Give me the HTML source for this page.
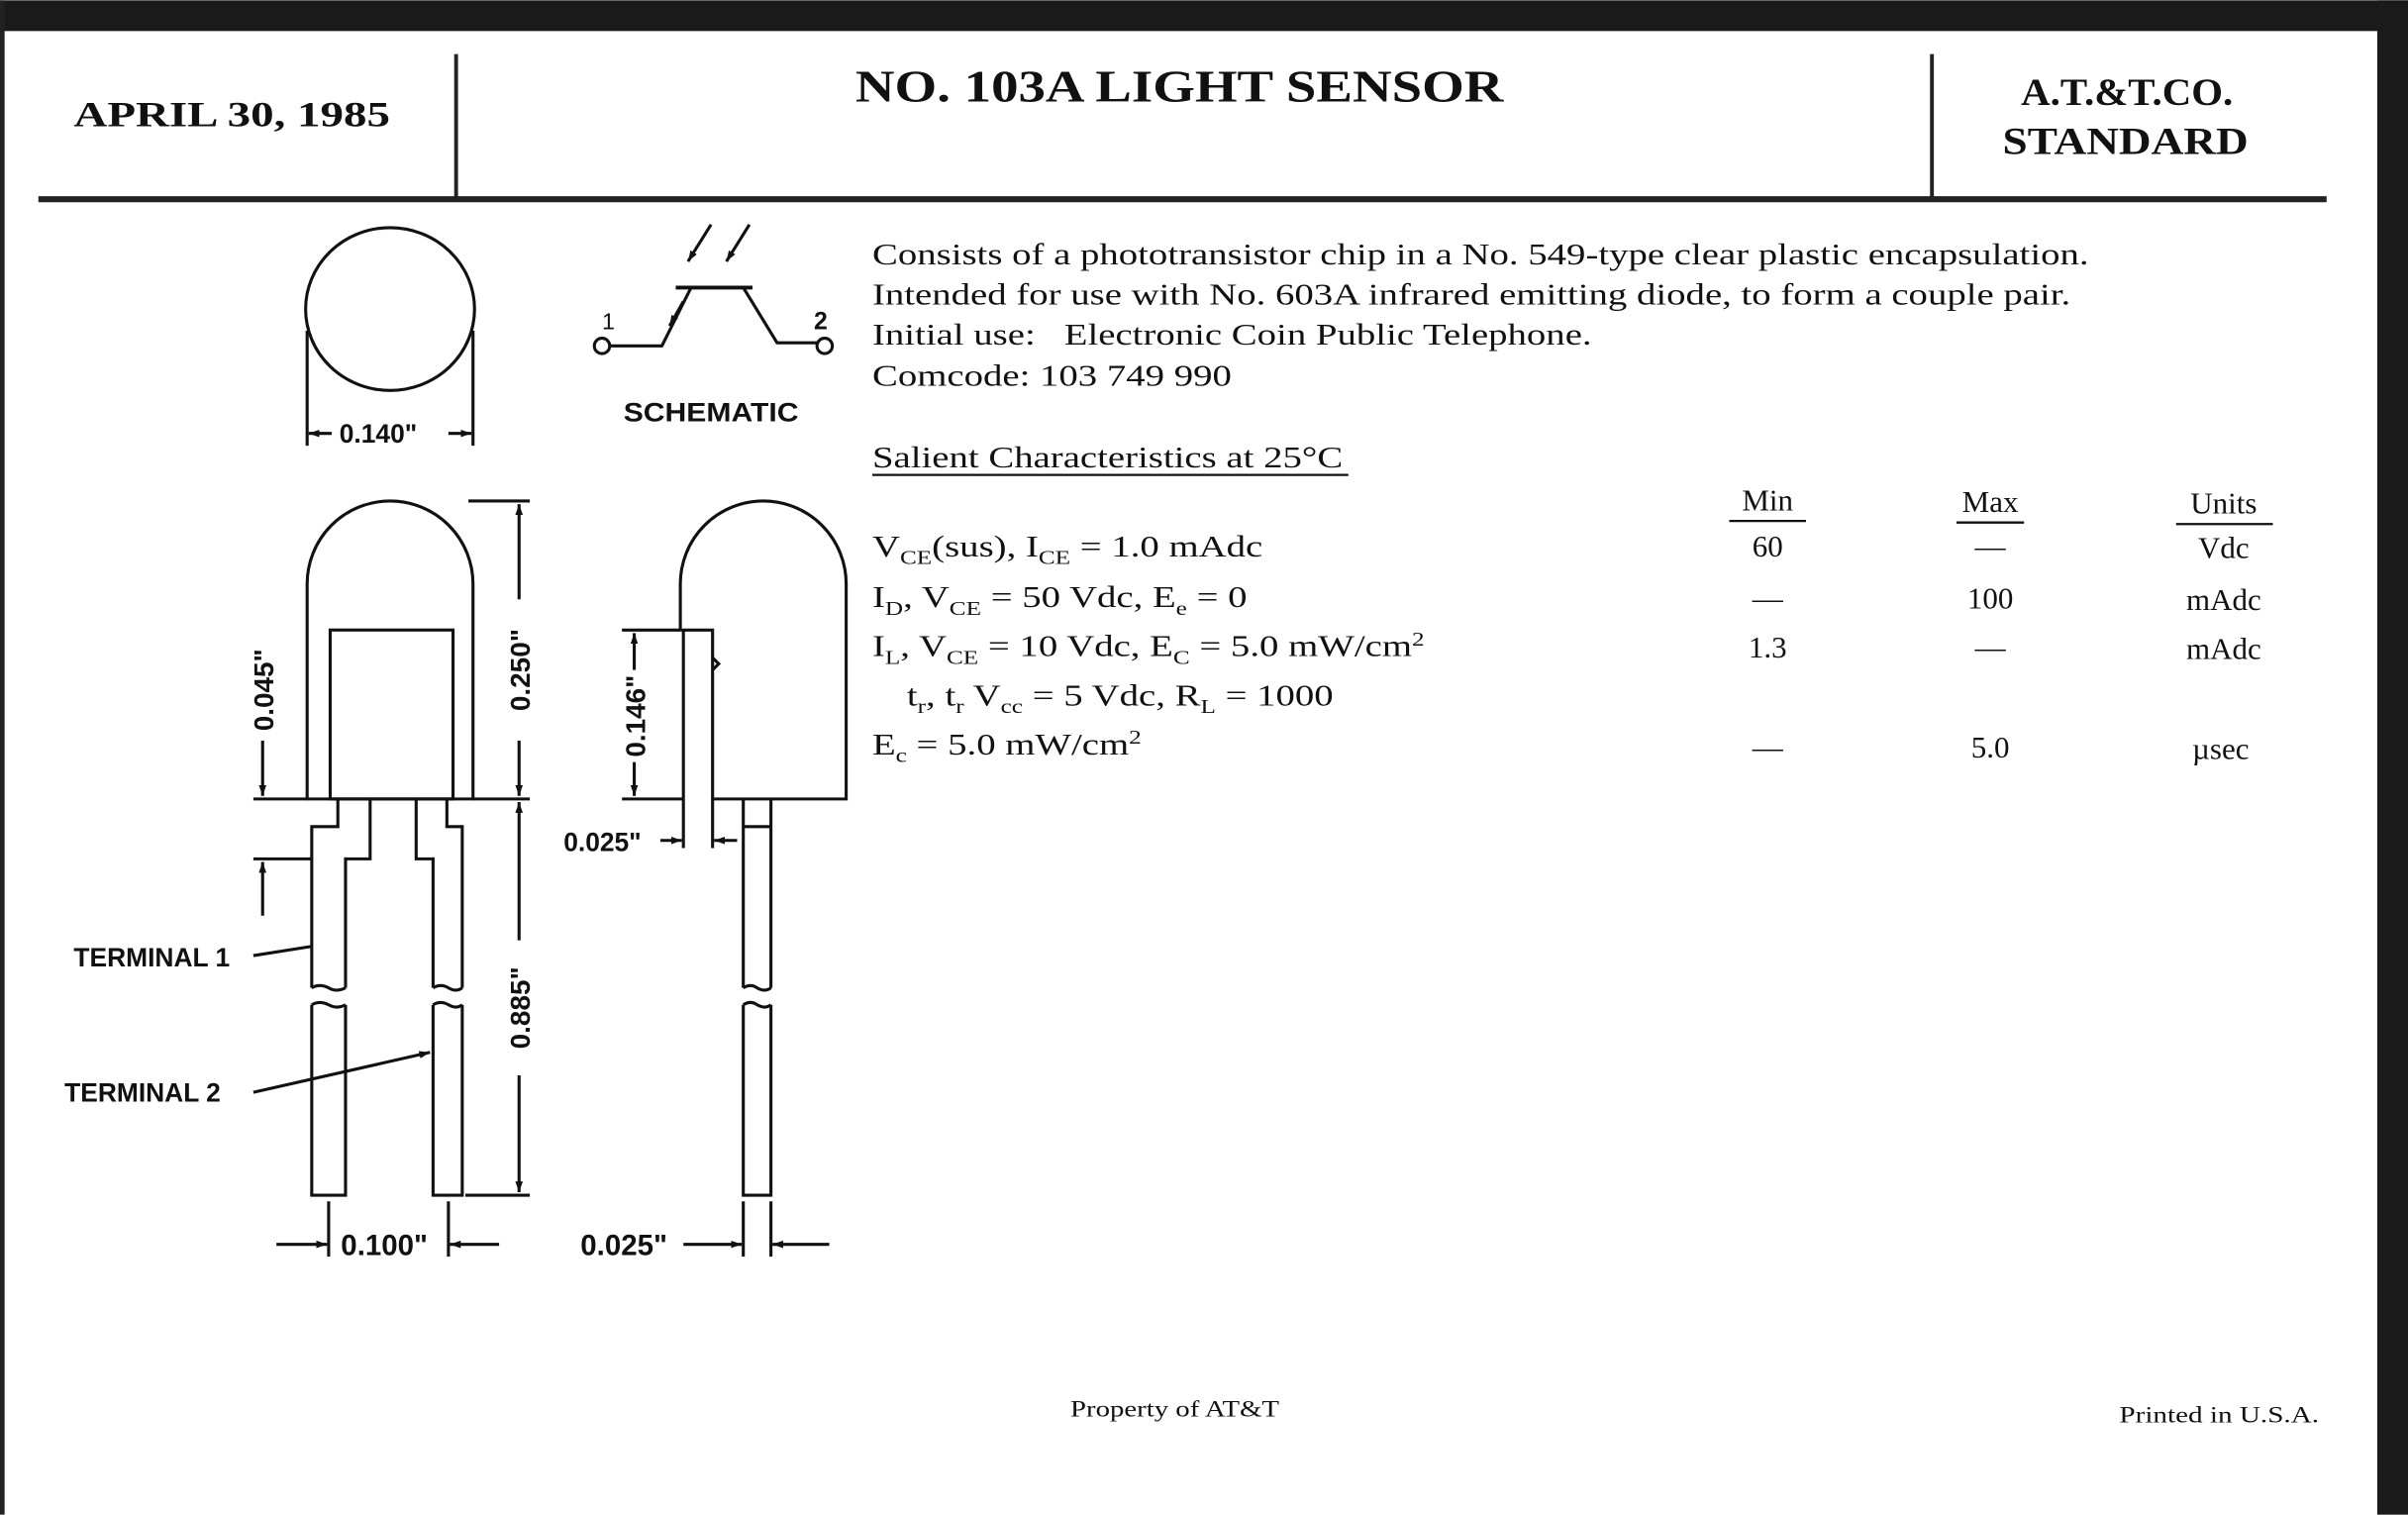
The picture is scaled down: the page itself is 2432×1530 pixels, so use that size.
<!DOCTYPE html>
<html><head><meta charset="utf-8"><style>
html,body{margin:0;padding:0;background:#fff;}
svg{display:block;}
.s{font-family:"Liberation Serif",serif;fill:#111;}
.g{font-family:"Liberation Sans",sans-serif;font-weight:bold;fill:#111;}
</style></head><body>
<svg width="2432" height="1530" viewBox="0 0 1568 986" xmlns="http://www.w3.org/2000/svg">
<defs>
<marker id="a" viewBox="0 0 10 10" refX="10" refY="5" markerWidth="7" markerHeight="7" orient="auto-start-reverse" markerUnits="userSpaceOnUse"><path d="M0,1.5 L10,5 L0,8.5 Z" fill="#111"/></marker>
</defs>
<rect width="1568" height="986" fill="#fff"/>
<rect x="0" y="0" width="1568" height="20" fill="#1a1a1a"/>
<rect x="1548" y="0" width="20" height="986" fill="#1a1a1a"/>
<rect x="0" y="0" width="3" height="986" fill="#222"/>
<!-- header -->
<g stroke="#222" fill="none">
<line x1="297" y1="35" x2="297" y2="128" stroke-width="2.5"/>
<line x1="1258" y1="35" x2="1258" y2="128" stroke-width="2.5"/>
<line x1="25" y1="129.5" x2="1515" y2="129.5" stroke-width="4"/>
</g>
<text class="s" x="48" y="82" font-size="23" font-weight="bold" textLength="206" lengthAdjust="spacingAndGlyphs">APRIL 30, 1985</text>
<text class="s" x="557" y="66" font-size="29" font-weight="bold" textLength="422" lengthAdjust="spacingAndGlyphs">NO. 103A LIGHT SENSOR</text>
<text class="s" x="1316" y="68" font-size="25" font-weight="bold" textLength="138" lengthAdjust="spacingAndGlyphs">A.T.&amp;T.CO.</text>
<text class="s" x="1304" y="100" font-size="25" font-weight="bold" textLength="160" lengthAdjust="spacingAndGlyphs">STANDARD</text>

<g stroke="#111" stroke-width="2" fill="none">
<ellipse cx="254" cy="201" rx="55" ry="53"/>
<line x1="200" y1="215" x2="200" y2="290"/>
<line x1="308" y1="215" x2="308" y2="290"/>
<line x1="216" y1="282" x2="201" y2="282" marker-end="url(#a)"/>
<line x1="292" y1="282" x2="307" y2="282" marker-end="url(#a)"/>
<path d="M200,520 V380 A54,54 0 0 1 308,380 V520 Z"/>
<rect x="215" y="410" width="80" height="110"/>
<line x1="165" y1="520" x2="200" y2="520"/>
<line x1="308" y1="520" x2="345" y2="520"/>
<path d="M220,520 V538 H203 V643"/>
<path d="M241,520 V559 H225 V643"/>
<path d="M203,643 q5,-3 11,0 q5,3 11,0"/>
<path d="M203,654 q5,-3 11,0 q5,3 11,0"/>
<path d="M203,654 V778 H225 V654"/>
<path d="M271,520 V559 H282 V643"/>
<path d="M291,520 V538 H301 V643"/>
<path d="M282,643 q5,-3 10,0 q5,3 9,0"/>
<path d="M282,654 q5,-3 10,0 q5,3 9,0"/>
<path d="M282,654 V778 H301 V654"/>
<line x1="165" y1="559" x2="203" y2="559"/>
<line x1="171" y1="596" x2="171" y2="561" marker-end="url(#a)"/>
<line x1="171" y1="482" x2="171" y2="518" marker-end="url(#a)"/>
<line x1="305" y1="326" x2="345" y2="326"/>
<line x1="338" y1="390" x2="338" y2="328" marker-end="url(#a)"/>
<line x1="338" y1="482" x2="338" y2="518" marker-end="url(#a)"/>
<line x1="338" y1="612" x2="338" y2="522" marker-end="url(#a)"/>
<line x1="338" y1="700" x2="338" y2="776" marker-end="url(#a)"/>
<line x1="303" y1="778" x2="345" y2="778"/>
<line x1="214" y1="782" x2="214" y2="818"/>
<line x1="292" y1="782" x2="292" y2="818"/>
<line x1="180" y1="810" x2="213" y2="810" marker-end="url(#a)"/>
<line x1="325" y1="810" x2="293" y2="810" marker-end="url(#a)"/>
<line x1="165" y1="622" x2="203" y2="616"/>
<line x1="165" y1="711" x2="280" y2="685" marker-end="url(#a)"/>
<path d="M443,410 V380 A54,54 0 0 1 551,380 V520 H464 V410 H443"/>
<line x1="445" y1="410" x2="445" y2="520"/>
<path d="M464,428 l4,4 l-4,4"/>
<line x1="405" y1="410" x2="443" y2="410"/>
<line x1="405" y1="520" x2="445" y2="520"/>
<line x1="413" y1="436" x2="413" y2="412" marker-end="url(#a)"/>
<line x1="413" y1="496" x2="413" y2="518" marker-end="url(#a)"/>
<line x1="445" y1="520" x2="445" y2="552"/>
<line x1="464" y1="520" x2="464" y2="552"/>
<line x1="430" y1="547" x2="444" y2="547" marker-end="url(#a)"/>
<line x1="480" y1="547" x2="465" y2="547" marker-end="url(#a)"/>
<path d="M484,520 V643 M502,520 V643 M484,538 H502"/>
<path d="M484,643 q5,-3 9,0 q5,3 9,0"/>
<path d="M484,654 q5,-3 9,0 q5,3 9,0"/>
<path d="M484,654 V778 H502 V654"/>
<line x1="484" y1="782" x2="484" y2="818"/>
<line x1="502" y1="782" x2="502" y2="818"/>
<line x1="445" y1="810" x2="483" y2="810" marker-end="url(#a)"/>
<line x1="540" y1="810" x2="503" y2="810" marker-end="url(#a)"/>
<line x1="440" y1="187" x2="490" y2="187" stroke-width="2.5"/>
<line x1="463" y1="146" x2="448" y2="170" marker-end="url(#a)"/>
<line x1="488" y1="146" x2="473" y2="170" marker-end="url(#a)"/>
<path d="M397,225 H431 L450,187"/>
<line x1="445" y1="196" x2="436" y2="212" marker-end="url(#a)"/>
<path d="M484,187 L506,223 H532"/>
<circle cx="392" cy="225" r="5"/>
<circle cx="537" cy="225" r="5"/>
</g>
<g class="g" font-size="17">
<text x="392" y="214" font-size="15" font-weight="normal">1</text>
<text x="530" y="214" font-size="16">2</text>
<text x="406" y="274" font-size="17" textLength="114" lengthAdjust="spacingAndGlyphs">SCHEMATIC</text>
<text x="221" y="288" font-size="17">0.140"</text>
<text x="48" y="629" font-size="17">TERMINAL 1</text>
<text x="42" y="717" font-size="17">TERMINAL 2</text>
<text x="222" y="817" font-size="19">0.100"</text>
<text x="378" y="817" font-size="19">0.025"</text>
<text x="367" y="554" font-size="17">0.025"</text>
<text transform="translate(178,449) rotate(-90)" text-anchor="middle" font-size="18">0.045"</text>
<text transform="translate(345,436) rotate(-90)" text-anchor="middle" font-size="18">0.250"</text>
<text transform="translate(345,656) rotate(-90)" text-anchor="middle" font-size="18">0.885"</text>
<text transform="translate(420,466) rotate(-90)" text-anchor="middle" font-size="18">0.146"</text>
</g>
<g class="s" font-size="20">
<g transform="translate(568 0) scale(1.25 1)">
<text x="0" y="172">Consists of a phototransistor chip in a No. 549-type clear plastic encapsulation.</text>
<text x="0" y="198">Intended for use with No. 603A infrared emitting diode, to form a couple pair.</text>
<text x="0" y="224">Initial use:&#160;&#160; Electronic Coin Public Telephone.</text>
<text x="0" y="251">Comcode: 103 749 990</text>
<text x="0" y="304">Salient Characteristics at 25°C</text>
<text x="0" y="362">V<tspan font-size="13" dy="5">CE</tspan><tspan dy="-5">(sus), I</tspan><tspan font-size="13" dy="5">CE</tspan><tspan dy="-5"> = 1.0 mAdc</tspan></text>
<text x="0" y="395">I<tspan font-size="13" dy="5">D</tspan><tspan dy="-5">, V</tspan><tspan font-size="13" dy="5">CE</tspan><tspan dy="-5"> = 50 Vdc, E</tspan><tspan font-size="13" dy="5">e</tspan><tspan dy="-5"> = 0</tspan></text>
<text x="0" y="427">I<tspan font-size="13" dy="5">L</tspan><tspan dy="-5">, V</tspan><tspan font-size="13" dy="5">CE</tspan><tspan dy="-5"> = 10 Vdc, E</tspan><tspan font-size="13" dy="5">C</tspan><tspan dy="-5"> = 5.0 mW/cm</tspan><tspan font-size="13" dy="-7">2</tspan></text>
<text x="18" y="459">t<tspan font-size="13" dy="5">r</tspan><tspan dy="-5">, t</tspan><tspan font-size="13" dy="5">r</tspan><tspan dy="-5"> V</tspan><tspan font-size="13" dy="5">cc</tspan><tspan dy="-5"> = 5 Vdc, R</tspan><tspan font-size="13" dy="5">L</tspan><tspan dy="-5"> = 1000</tspan></text>
<text x="0" y="491">E<tspan font-size="13" dy="5">c</tspan><tspan dy="-5"> = 5.0 mW/cm</tspan><tspan font-size="13" dy="-7">2</tspan></text>
</g>
<text x="1151" y="332" text-anchor="middle">Min</text>
<text x="1296" y="333" text-anchor="middle">Max</text>
<text x="1448" y="334" text-anchor="middle">Units</text>
<text x="1151" y="362" text-anchor="middle">60</text>
<text x="1296" y="362" text-anchor="middle">—</text>
<text x="1448" y="363" text-anchor="middle">Vdc</text>
<text x="1151" y="396" text-anchor="middle">—</text>
<text x="1296" y="396" text-anchor="middle">100</text>
<text x="1448" y="397" text-anchor="middle">mAdc</text>
<text x="1151" y="428" text-anchor="middle">1.3</text>
<text x="1296" y="428" text-anchor="middle">—</text>
<text x="1448" y="429" text-anchor="middle">mAdc</text>
<text x="1151" y="493" text-anchor="middle">—</text>
<text x="1296" y="493" text-anchor="middle">5.0</text>
<text x="1446" y="494" text-anchor="middle">µsec</text>
<text x="697" y="922" font-size="15" textLength="136" lengthAdjust="spacingAndGlyphs">Property of AT&amp;T</text>
<text x="1380" y="926" font-size="15" textLength="130" lengthAdjust="spacingAndGlyphs">Printed in U.S.A.</text>
</g>
<g stroke="#111" stroke-width="1.5">
<line x1="568" y1="309" x2="878" y2="309"/>
<line x1="1126" y1="339" x2="1176" y2="339"/>
<line x1="1274" y1="340" x2="1318" y2="340"/>
<line x1="1417" y1="341" x2="1480" y2="341"/>
</g>
</svg>
</body></html>
